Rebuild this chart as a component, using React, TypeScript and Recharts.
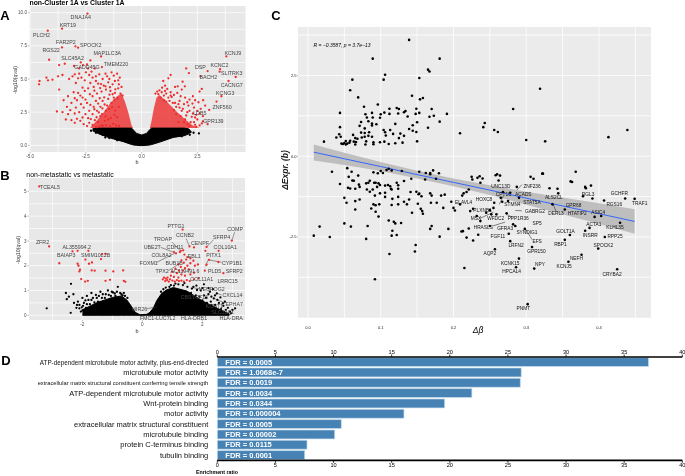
import React from "react";
import {
  ComposedChart, BarChart, Bar, Area, Line, Scatter, XAxis, YAxis, CartesianGrid,
  ReferenceLine, LabelList,
} from "recharts";

type P = [number, number];
type L = [string, number, number];
type Seg = [number, number, number, number];

/* ---------- Panel A ---------- */
const aRedCore = [
  { x: -2.3, low: 1.3, high: 1.35 }, { x: -2.0, low: 1.3, high: 1.9 }, { x: -1.7, low: 1.3, high: 2.5 },
  { x: -1.4, low: 1.3, high: 3.2 }, { x: -1.1, low: 1.3, high: 3.7 }, { x: -0.9, low: 1.3, high: 3.9 },
  { x: -0.75, low: 1.3, high: 3.3 }, { x: -0.6, low: 1.3, high: 2.5 }, { x: -0.45, low: 1.3, high: 1.5 }, { x: -0.38, low: 1.3, high: 1.3 },
  { x: 0.37, low: 1.3, high: 1.3 }, { x: 0.45, low: 1.3, high: 1.9 }, { x: 0.55, low: 1.3, high: 2.8 },
  { x: 0.67, low: 1.3, high: 3.6 }, { x: 0.8, low: 1.3, high: 3.8 }, { x: 1.0, low: 1.3, high: 3.5 },
  { x: 1.3, low: 1.3, high: 3.0 }, { x: 1.6, low: 1.3, high: 2.5 }, { x: 2.0, low: 1.3, high: 1.9 },
  { x: 2.3, low: 1.3, high: 1.5 }, { x: 2.6, low: 1.3, high: 1.3 },
];
const aBlackMass = [
  { x: -2.2, low: 1.1, high: 1.25 }, { x: -1.9, low: 0.85, high: 1.3 }, { x: -1.57, low: 0.65, high: 1.3 },
  { x: -1.2, low: 0.45, high: 1.3 }, { x: -0.82, low: 0.28, high: 1.3 }, { x: -0.55, low: 0.12, high: 1.3 },
  { x: -0.45, low: 0.06, high: 1.3 }, { x: -0.37, low: 0.03, high: 1.15 }, { x: -0.22, low: 0, high: 0.9 },
  { x: 0, low: -0.02, high: 0.78 }, { x: 0.22, low: 0, high: 0.9 }, { x: 0.37, low: 0.03, high: 1.2 },
  { x: 0.45, low: 0.06, high: 1.3 }, { x: 0.82, low: 0.25, high: 1.3 }, { x: 1.42, low: 0.6, high: 1.3 },
  { x: 1.9, low: 0.72, high: 1.3 }, { x: 2.1, low: 0.85, high: 1.25 }, { x: 2.2, low: 1.0, high: 1.1 },
];
const aRedLeft: P[] = [
  [-2.43, 9.92], [-3.57, 8.79], [-4.21, 8.64], [-3.57, 7.38], [-2.97, 7.46], [-2.85, 7.36], [-4.15, 6.45], [-1.82, 6.7],
  [-2.3, 6.4], [-2.73, 6.25], [-2.45, 6.1], [-2.63, 6.05], [-2.4, 5.8], [-3.03, 5.98], [-2.1, 5.8], [-1.78, 5.9],
  [-2.8, 5.8], [-3.7, 6.05], [-3.45, 6.15], [-4.2, 4.9], [-4.27, 5.1], [-4.58, 4.85], [-4.6, 4.6], [-4.0, 4.95],
  [-3.75, 5.2], [-3.55, 5.3], [-3.7, 4.2], [-3.3, 3.7], [-3.25, 5.0], [-3.1, 5.2], [-2.95, 4.7], [-2.8, 5.4],
  [-2.7, 5.1], [-2.55, 4.9], [-2.35, 5.3], [-2.2, 5.1], [-2.05, 5.2], [-1.9, 5.35], [-1.75, 5.0], [-1.55, 5.2],
  [-1.35, 5.5], [-1.25, 5.25], [-1.1, 5.4], [-1.05, 4.9], [-1.3, 4.6], [-1.5, 4.75], [-1.7, 4.5], [-1.95, 4.65],
  [-2.15, 4.4], [-2.4, 4.3], [-2.65, 4.35], [-2.85, 3.95], [-3.05, 4.0], [-3.5, 3.4], [-3.35, 2.9], [-3.15, 3.2],
  [-2.9, 3.4], [-2.65, 3.6], [-2.45, 3.2], [-2.2, 3.7], [-2.0, 3.9], [-1.8, 4.05], [-1.6, 4.2], [-1.4, 4.1],
  [-1.2, 3.95], [-1.05, 4.3], [-0.95, 3.9], [-1.25, 3.6], [-1.5, 3.5], [-1.75, 3.35], [-1.95, 3.15], [-2.15, 2.9],
  [-2.35, 2.6], [-2.6, 2.85], [-2.8, 2.5], [-3.0, 2.4], [-3.3, 2.35], [-3.55, 2.5], [-3.8, 2.55], [-3.4, 1.95],
  [-3.15, 1.9], [-2.9, 2.0], [-2.65, 2.1], [-2.4, 2.05], [-2.2, 2.35], [-2.0, 2.6], [-1.85, 2.9], [-1.85, 2.2],
  [-2.1, 1.9], [-2.35, 1.7], [-2.6, 1.6], [-2.45, 1.45], [-2.2, 1.55], [-1.95, 1.75], [-1.8, 1.5], [-2.05, 1.4],
  [-1.6, 2.6], [-1.55, 3.0], [-1.35, 3.2], [-1.65, 1.85], [-1.3, 3.85], [-0.9, 4.4], [-0.85, 3.75],
  [-1.9, 1.42], [-1.72, 1.48], [-1.58, 1.52], [-1.42, 1.44], [-1.28, 1.62], [-1.15, 1.5], [-1.02, 1.46], [-2.28, 1.98], [-2.02, 2.12],
  [-1.78, 2.36], [-1.62, 2.18], [-1.5, 1.95], [-1.38, 2.05], [-1.22, 2.3], [-1.1, 2.12], [-2.12, 2.72], [-1.92, 2.48], [-1.76, 2.78],
  [-1.66, 3.08], [-1.46, 2.74], [-1.32, 2.88], [-1.18, 2.62], [-1.02, 2.9], [-2.3, 3.05], [-2.05, 3.35], [-1.88, 3.55], [-1.68, 3.62],
  [-1.44, 3.82], [-1.22, 3.42], [-1.08, 3.55], [-2.52, 3.45], [-2.32, 3.85], [-2.12, 4.12], [-1.86, 4.32], [-1.62, 4.45], [-1.42, 4.38],
  [-1.18, 4.22], [-1.02, 4.6], [-2.55, 4.1], [-2.75, 3.75], [-3.0, 3.55], [-3.2, 2.65], [-2.95, 2.85], [-2.72, 3.1], [-2.52, 2.35],
  [-2.75, 1.85], [-3.0, 1.7], [-2.3, 4.7], [-2.05, 4.85], [-1.82, 4.62], [-1.62, 5.4], [-1.2, 4.85], [-0.98, 5.1], [-1.45, 5.0],
  [-2.5, 5.5], [-2.25, 5.55], [-3.0, 5.35], [-2.85, 5.05],
];
const aRedRight: P[] = [
  [3.8, 6.7], [2.0, 5.8], [2.12, 5.45], [2.96, 5.6], [3.5, 5.55], [3.52, 5.75], [4.22, 5.15], [3.9, 4.85], [2.64, 5.2],
  [2.7, 4.25], [2.6, 4.05], [3.58, 3.7], [3.36, 3.3], [3.03, 2.67], [2.6, 2.4], [2.45, 2.3], [2.96, 1.6], [1.3, 5.3],
  [1.2, 5.05], [0.97, 4.85], [1.05, 4.5], [1.84, 4.8], [1.94, 4.45], [1.5, 4.4], [1.8, 4.2], [2.3, 3.7], [2.76, 3.4],
  [0.8, 4.15], [0.9, 4.0], [1.15, 4.25], [1.3, 4.0], [1.45, 3.8], [1.6, 3.95], [1.95, 3.6], [2.15, 3.45], [2.55, 3.25],
  [1.2, 3.6], [1.0, 3.75], [1.7, 3.35], [1.9, 3.1], [2.1, 3.0], [2.35, 2.85], [2.65, 2.75], [1.4, 3.2], [1.55, 2.9],
  [1.8, 2.6], [2.05, 2.5], [2.25, 2.15], [2.5, 1.95], [2.75, 2.2], [2.2, 1.75], [1.95, 1.95], [2.4, 1.55], [2.7, 1.65],
  [1.75, 2.2], [1.65, 1.75], [2.05, 1.6], [2.28, 3.15], [1.1, 3.3], [0.75, 3.85],
  [0.62, 3.9], [0.7, 4.05], [0.85, 3.6], [1.0, 3.4], [1.1, 3.9], [1.25, 3.35], [1.35, 3.65], [1.5, 3.2], [1.65, 3.1], [1.45, 2.65],
  [1.7, 2.85], [1.85, 2.75], [2.0, 2.25], [2.15, 2.6], [2.3, 2.4], [2.4, 2.1], [1.55, 2.35], [1.9, 1.75], [2.15, 1.45], [2.35, 1.75],
  [2.6, 1.5], [2.75, 1.8], [2.45, 1.4], [1.3, 3.75], [1.75, 3.7], [1.05, 4.1], [0.92, 4.35], [1.62, 4.45], [2.05, 3.25], [2.4, 3.4],
  [2.5, 2.6], [2.85, 3.0],
];
const aBlack: P[] = [
  [-2.27, 1.1], [-1.92, 1.05], [-1.63, 0.6], [-2.05, 0.95], [-1.75, 0.8], [-1.45, 0.55], [-1.1, 0.38],
  [1.55, 0.7], [1.8, 0.68], [2.16, 0.8], [2.57, 0.9], [1.95, 0.98], [2.2, 1.0], [1.35, 0.78], [1.7, 0.95], [2.33, 0.95],
];
const aLabels: L[] = [
  ["DNAJA4", -2.73, 9.65], ["KRT19", -3.31, 9.09], ["PLCH2", -4.49, 8.31], ["FAR2P2", -3.4, 7.78], ["SPOCK2", -2.28, 7.58],
  ["RGS22", -4.06, 7.18], ["MAP1LC3A", -1.54, 6.98], ["SLC45A2", -3.1, 6.57], ["GADD45G", -2.45, 5.94], ["TMEM220", -1.15, 6.14],
  ["KCNJ9", 4.09, 6.93], ["KCNC2", 3.49, 6.02], ["DSP", 2.64, 5.87], ["SLITRK3", 4.04, 5.42], ["BACH2", 2.99, 5.16],
  ["CACNG7", 4.04, 4.56], ["KCNG3", 3.75, 3.95], ["ZNF560", 3.61, 2.92], ["LDB5", 2.61, 2.47], ["GPR139", 3.22, 1.86],
];
const aXTicks = [-5, -2.5, 0, 2.5];
const aYTicks = [0, 2.5, 5, 7.5, 10];
const aGridX = [-5, -3.75, -2.5, -1.25, 0, 1.25, 2.5, 3.75];
const aGridY = [0, 1.25, 2.5, 3.75, 5, 6.25, 7.5, 8.75, 10];

/* ---------- Panel B ---------- */
const bBlackMass = [
  { x: -2.0, low: 0.0, high: 0.22 }, { x: -1.5, low: 0.0, high: 0.52 }, { x: -1.0, low: 0.0, high: 0.72 },
  { x: -0.7, low: 0.0, high: 0.78 }, { x: -0.52, low: 0.0, high: 0.62 }, { x: -0.36, low: 0.0, high: 0.35 },
  { x: -0.24, low: 0.0, high: 0.12 }, { x: -0.08, low: 0.0, high: 0.02 }, { x: 0.15, low: 0.0, high: 0.04 },
  { x: 0.25, low: 0.0, high: 0.12 }, { x: 0.37, low: 0.0, high: 0.3 }, { x: 0.48, low: 0.0, high: 0.6 },
  { x: 0.64, low: 0.0, high: 0.88 }, { x: 0.8, low: 0.0, high: 1.02 }, { x: 1.03, low: 0.0, high: 1.12 },
  { x: 1.48, low: 0.0, high: 0.98 }, { x: 2.0, low: 0.0, high: 0.58 }, { x: 2.5, low: 0.0, high: 0.28 },
  { x: 2.9, low: 0.0, high: 0.05 },
];
const bRed: P[] = [
  [-3.44, 5.2], [-3.11, 2.78], [-2.77, 2.1], [-2.33, 2.58], [-2.16, 2.6], [-1.8, 2.6], [-1.9, 2.25], [-2.16, 2.08],
  [-2.13, 2.0], [-2.08, 1.84], [-2.1, 1.77], [-2.04, 1.46], [-1.91, 1.36], [-1.82, 1.39], [-1.68, 2.13], [-1.78, 2.08],
  [-1.69, 1.81], [-1.59, 1.8], [-1.38, 2.27], [-1.34, 2.47], [-1.23, 2.48], [-1.23, 1.8], [-0.97, 1.77], [-0.64, 1.81],
  [-1.23, 1.39], [-1.08, 1.43], [-0.62, 1.39], [-0.57, 1.35],
  [1.34, 3.46], [1.57, 2.78], [1.72, 2.74], [2.14, 2.76], [2.1, 2.6], [2.54, 2.6], [2.98, 3.01], [2.22, 2.24], [2.53, 2.15],
  [2.14, 2.04], [2.08, 1.8], [2.7, 1.7], [1.28, 2.6], [1.36, 2.62], [1.25, 2.55], [1.05, 2.55], [1.12, 2.5], [1.4, 2.45],
  [1.5, 2.35], [1.46, 2.25], [1.6, 2.3], [1.7, 2.2], [1.85, 2.05], [1.75, 2.0], [1.6, 2.1], [1.5, 2.0], [1.38, 2.12],
  [1.3, 2.22], [1.2, 2.05], [1.28, 1.95], [1.42, 1.9], [1.55, 1.85], [1.35, 1.8], [1.22, 1.8], [1.1, 1.88], [1.0, 1.75],
  [1.15, 1.7], [1.3, 1.65], [1.42, 1.6], [1.6, 1.65], [1.72, 1.72], [0.95, 1.6], [1.05, 1.55], [1.2, 1.52], [0.72, 1.52],
  [0.78, 1.48], [0.82, 1.42], [0.76, 1.38], [0.88, 1.36], [0.92, 1.45], [1.0, 1.4], [1.08, 1.36], [1.15, 1.42], [1.22, 1.38],
  [1.3, 1.4], [1.38, 1.36], [1.48, 1.42], [1.58, 1.38], [0.68, 1.45], [0.84, 1.52], [1.72, 1.45], [1.88, 1.5],
];
const bBlack: P[] = [
  [-3.19, 0.28], [-2.39, 0.1], [-2.38, 1.27], [-2.55, 0.9], [-2.45, 0.75], [-2.52, 0.65], [-2.3, 0.85], [-2.15, 0.55], [-2.1, 0.42],
  [-2.02, 0.32], [-1.95, 0.5], [-1.85, 0.78], [-1.8, 0.62], [-1.75, 0.45], [-1.7, 0.9], [-1.65, 0.7], [-1.6, 0.52], [-1.55, 0.82],
  [-1.48, 0.55], [-1.4, 0.95], [-1.35, 0.7], [-1.3, 0.55], [-1.22, 0.85], [-1.15, 1.0], [-1.05, 0.78], [-0.98, 0.92], [-0.9, 0.78],
  [-0.82, 1.15], [-0.74, 0.9], [-0.66, 0.8], [-0.58, 0.78], [-0.5, 0.7], [-2.05, 0.15], [-1.9, 0.22], [-1.8, 0.12], [-1.95, 0.08],
  [-2.2, 0.3], [-1.6, 0.12], [-1.72, 0.28],
  [-2.0, 0.7], [-1.9, 0.6], [-1.85, 0.45], [-1.7, 0.62], [-1.62, 0.35], [-1.52, 0.7], [-1.45, 0.78], [-1.32, 0.85], [-1.25, 0.7],
  [-1.12, 0.82], [-1.02, 0.95], [-0.92, 0.88], [-0.85, 0.95], [-0.7, 0.85], [-0.62, 0.9], [-2.28, 0.5], [-2.18, 0.42], [-2.1, 0.28],
  [-1.98, 0.38], [-1.88, 0.3], [-1.68, 0.18], [-2.0, 0.2], [-1.52, 0.18],
  [0.9, 1.15], [1.05, 1.2], [1.2, 1.25], [1.35, 1.22], [1.5, 1.15], [1.65, 1.08], [1.8, 1.2], [2.05, 1.25], [1.95, 1.0], [2.2, 1.1],
  [1.62, 0.9], [1.78, 0.8], [1.9, 0.75], [2.05, 0.8], [2.2, 0.85], [2.35, 1.05], [2.48, 0.88], [2.6, 0.72], [2.38, 0.68],
  [2.28, 0.55], [2.15, 0.5], [2.0, 0.6], [1.88, 0.42], [2.1, 0.32], [2.25, 0.3], [2.42, 0.42], [2.55, 0.5], [2.7, 0.38],
  [2.85, 0.3], [3.09, 0.28], [2.92, 0.15], [2.72, 0.12], [2.5, 0.16], [2.35, 0.12], [2.18, 0.14], [2.62, 0.25], [2.05, 0.18],
  [1.75, 0.3], [1.65, 0.6], [2.3, 0.75], [2.75, 0.55], [1.95, 0.12],
  [2.3, 0.42], [2.45, 0.3], [2.6, 0.15], [2.78, 0.22], [2.95, 0.08], [3.0, 0.22], [2.68, 0.48], [2.5, 0.62], [2.42, 0.8], [2.12, 0.7],
  [1.82, 1.02], [1.7, 1.15], [2.0, 1.1], [2.25, 0.95], [1.4, 1.3], [1.1, 1.28], [0.95, 1.22], [0.78, 1.12], [0.7, 1.05], [0.62, 0.95],
];
const bLabels: L[] = [
  ["TCEAL5", -3.08, 5.19], ["PTTG1", 1.12, 3.62], ["COMP", 3.09, 3.49], ["CCNB2", 1.42, 3.23], ["SFRP4", 2.64, 3.16],
  ["TROAP", 0.68, 3.08], ["ZFR2", -3.33, 2.95], ["CENPF", 1.92, 2.91], ["AL355994.2", -2.19, 2.74], ["UBE2T", 0.33, 2.74],
  ["CDH11", 1.09, 2.74], ["COL10A1", 2.76, 2.74], ["BAIAP3", -2.54, 2.42], ["SMIM10L2B", -1.56, 2.43], ["COL8A2", 0.64, 2.42],
  ["EBL1", 1.73, 2.38], ["PITX1", 2.37, 2.42], ["FOXM1", 0.21, 2.09], ["CYP1B1", 2.99, 2.12], ["BUB1B", 1.06, 2.09],
  ["TPX2", 0.66, 1.78], ["AC119491.6", 1.42, 1.78], ["PLD5", 2.41, 1.78], ["SFRP2", 3.06, 1.78], ["COL11A1", 1.98, 1.46],
  ["LRRC15", 2.84, 1.38], ["NEUROG2", 2.31, 1.08], ["CXCL14", 3.0, 0.8], ["TCF15", 1.92, 0.74], ["CBS", 1.46, 0.74],
  ["EPHA7", 3.06, 0.46], ["KCNT1", 2.4, 0.39], ["SLC32A1", 2.67, 0.15], ["MIR26", -0.1, 0.24], ["FMC1-LUC7L2", 0.51, -0.11],
  ["HLA-DRB1", 1.72, -0.11], ["HLA-DRA", 2.96, -0.11],
];
const bSegments: Seg[] = [
  [2.98, 3.01, 3.07, 3.35], [2.14, 2.76, 2.37, 3.05], [1.57, 2.78, 1.46, 3.09], [0.98, 2.96, 1.26, 2.61], [0.61, 2.74, 1.03, 2.55],
  [0.48, 2.14, 1.09, 2.51], [0.87, 1.8, 1.26, 2.11], [2.09, 1.97, 2.2, 2.24], [2.2, 2.24, 2.64, 2.14], [0.14, 0.26, 0.48, 0.35],
  [1.64, 1.12, 1.92, 1.07], [2.48, 0.89, 2.64, 0.82], [2.37, 0.69, 2.76, 0.49], [3.09, 0.28, 2.92, 0.01],
];
const bXTicks = [-2, 0, 2];
const bYTicks = [0, 1, 2, 3, 4, 5];
const bGridX = [-3, -2, -1, 0, 1, 2, 3];
const bGridY = [0, 0.5, 1, 1.5, 2, 2.5, 3, 3.5, 4, 4.5, 5];

/* ---------- Panel C ---------- */
const cFit = [
  { x: 0.008, fit: 0.124, low: -0.13, high: 0.36 }, { x: 0.05, fit: -0.08, low: -0.27, high: 0.11 },
  { x: 0.1, fit: -0.32, low: -0.46, high: -0.18 }, { x: 0.15, fit: -0.57, low: -0.69, high: -0.45 },
  { x: 0.2, fit: -0.81, low: -0.93, high: -0.69 }, { x: 0.25, fit: -1.05, low: -1.2, high: -0.9 },
  { x: 0.3, fit: -1.3, low: -1.5, high: -1.1 }, { x: 0.35, fit: -1.54, low: -1.8, high: -1.28 },
  { x: 0.4, fit: -1.78, low: -2.1, high: -1.46 }, { x: 0.449, fit: -2.02, low: -2.4, high: -1.64 },
];
const cPoints: P[] = [
  [0.139, 3.6], [0.089, 3.02], [0.181, 3.02], [0.165, 2.68], [0.167, 2.62], [0.106, 2.52], [0.104, 2.37], [0.061, 2.37],
  [0.153, 2.42], [0.058, 2.04], [0.069, 1.82], [0.143, 1.87], [0.158, 1.8], [0.154, 1.76], [0.077, 1.53], [0.096, 1.6],
  [0.319, 2.09], [0.282, 1.46], [0.044, 1.34], [0.112, 1.47], [0.122, 1.49], [0.125, 1.46], [0.134, 1.4], [0.132, 1.36],
  [0.149, 1.47], [0.17, 1.46], [0.105, 1.35], [0.112, 1.31], [0.124, 1.32], [0.1, 1.3], [0.088, 1.34], [0.079, 1.3],
  [0.081, 1.2], [0.089, 1.2], [0.099, 1.19], [0.137, 1.23], [0.148, 1.31], [0.153, 1.34], [0.167, 1.22], [0.173, 1.25],
  [0.191, 1.31], [0.073, 1.06], [0.083, 1.08], [0.088, 1.01], [0.088, 0.95], [0.094, 0.99], [0.071, 0.94], [0.044, 0.9],
  [0.12, 1.0], [0.144, 0.96], [0.15, 1.05], [0.181, 1.07], [0.165, 0.88], [0.139, 0.84], [0.078, 0.86], [0.104, 0.81],
  [0.106, 0.74], [0.113, 0.81], [0.144, 0.79], [0.149, 0.75], [0.073, 0.73], [0.078, 0.72], [0.084, 0.74], [0.043, 0.68],
  [0.045, 0.6], [0.039, 0.58], [0.062, 0.66], [0.065, 0.56], [0.068, 0.54], [0.074, 0.58], [0.078, 0.6], [0.083, 0.63],
  [0.088, 0.6], [0.107, 0.64], [0.117, 0.69], [0.127, 0.7], [0.132, 0.63], [0.125, 0.56], [0.022, 0.45], [0.046, 0.39],
  [0.05, 0.41], [0.052, 0.47], [0.058, 0.48], [0.048, 0.38], [0.052, 0.36], [0.054, 0.39], [0.057, 0.42], [0.063, 0.45],
  [0.066, 0.44], [0.065, 0.36], [0.08, 0.46], [0.079, 0.36], [0.09, 0.43], [0.09, 0.37], [0.099, 0.43], [0.105, 0.45],
  [0.111, 0.38], [0.12, 0.4], [0.13, 0.42], [0.15, 0.46], [0.209, 0.71], [0.241, 0.9], [0.243, 1.03], [0.256, 0.81],
  [0.261, 0.75], [0.3, 0.5], [0.326, 0.46], [0.413, 0.59], [0.439, 0.81],
  [0.033, -0.48], [0.054, -0.37], [0.06, -0.48], [0.09, -0.5], [0.096, -0.53], [0.1, -0.46], [0.103, -0.52], [0.108, -0.43],
  [0.111, -0.39], [0.115, -0.44], [0.129, -0.46], [0.153, -0.48], [0.162, -0.52], [0.168, -0.52], [0.172, -0.44], [0.18, -0.53],
  [0.26, -0.56], [0.323, -0.54], [0.368, -0.48],
  [0.044, -0.86], [0.056, -0.64], [0.069, -0.6], [0.061, -0.75], [0.063, -0.76], [0.055, -0.98], [0.058, -1.0], [0.065, -1.01],
  [0.07, -0.88], [0.071, -0.95], [0.08, -0.84], [0.083, -0.82], [0.085, -0.76], [0.091, -0.82], [0.093, -0.82], [0.097, -0.84],
  [0.099, -0.89], [0.095, -0.95], [0.089, -1.03], [0.081, -1.03], [0.085, -1.1], [0.05, -1.29], [0.053, -1.44], [0.065, -1.39],
  [0.071, -1.34], [0.065, -1.65], [0.087, -1.62], [0.09, -1.49], [0.093, -1.52], [0.098, -1.49], [0.093, -1.72], [0.097, -1.87],
  [0.05, -2.08], [0.016, -2.18], [0.059, -2.18], [0.082, -2.16], [0.008, -2.46], [0.03, -2.5], [0.08, -2.56], [0.111, -1.99],
  [0.118, -2.03], [0.12, -2.08], [0.128, -2.07], [0.116, -2.31], [0.115, -2.46], [0.122, -2.44], [0.148, -2.75], [0.147, -2.95],
  [0.112, -3.03], [0.092, -3.81], [0.106, -0.91], [0.11, -0.89], [0.113, -0.93], [0.122, -0.82], [0.124, -0.9], [0.115, -1.03],
  [0.124, -1.01], [0.142, -0.7], [0.132, -0.77], [0.141, -1.11], [0.149, -1.1], [0.153, -1.16], [0.156, -1.24], [0.152, -1.18],
  [0.168, -1.15], [0.17, -1.22], [0.161, -0.72], [0.168, -0.56], [0.176, -0.7], [0.183, -1.22], [0.188, -1.19], [0.106, -1.13],
  [0.099, -1.15], [0.092, -1.22], [0.106, -1.26], [0.114, -1.01], [0.116, -1.32], [0.124, -1.26], [0.132, -1.41], [0.136, -1.49],
  [0.139, -1.34], [0.124, -1.49], [0.115, -1.51], [0.143, -1.75], [0.155, -1.63], [0.157, -1.7], [0.158, -1.78], [0.151, -1.47],
  [0.169, -1.44], [0.177, -1.44], [0.186, -1.6], [0.2, -1.6], [0.202, -1.68], [0.197, -1.41], [0.209, -1.49], [0.212, -1.22],
  [0.214, -1.15], [0.218, -1.11], [0.221, -1.03], [0.225, -0.64], [0.226, -0.72], [0.233, -0.67], [0.236, -0.62], [0.24, -0.69],
  [0.237, -0.82], [0.258, -0.59], [0.264, -0.6], [0.262, -0.75], [0.306, -0.64], [0.31, -0.7], [0.322, -0.54], [0.332, -0.99],
  [0.343, -1.01], [0.344, -1.15], [0.361, -0.78], [0.363, -0.8], [0.381, -0.95], [0.382, -0.99], [0.389, -0.91], [0.378, -1.24],
  [0.391, -1.31], [0.407, -1.37], [0.436, -1.31], [0.449, -1.32], [0.287, -0.95], [0.29, -1.29], [0.268, -1.11], [0.278, -1.13],
  [0.275, -1.39], [0.267, -1.41], [0.265, -1.29], [0.223, -1.7], [0.227, -1.63], [0.25, -1.67], [0.255, -1.6], [0.256, -1.44],
  [0.232, -1.85], [0.237, -2.01], [0.245, -1.75], [0.252, -1.8], [0.259, -1.8], [0.273, -1.77], [0.282, -2.11], [0.285, -2.16],
  [0.298, -2.25], [0.276, -2.4], [0.278, -2.63], [0.257, -2.88], [0.29, -3.17], [0.286, -3.44], [0.215, -3.46], [0.311, -3.48],
  [0.308, -2.81], [0.302, -4.58], [0.36, -2.44], [0.353, -2.59], [0.381, -2.31], [0.387, -2.22], [0.408, -2.5], [0.399, -2.86],
  [0.376, -3.05], [0.358, -3.27], [0.425, -3.5], [0.429, -2.06], [0.394, -1.88], [0.403, -1.85], [0.353, -1.65], [0.336, -1.49],
  [0.213, -2.32], [0.211, -2.33], [0.218, -2.52], [0.227, -2.61], [0.234, -2.43], [0.221, -2.24], [0.193, -2.25], [0.181, -2.49],
  [0.168, -2.25], [0.17, -2.16], [0.25, -2.16],
];
const cLabels: L[] = [
  ["UNC13D", 0.265, -0.94], ["ZNF236", 0.308, -0.93], ["CPT1C", 0.269, -1.2], ["ACADS", 0.296, -1.18], ["ALS2CL", 0.338, -1.29],
  ["RGL3", 0.385, -1.19], ["GCHFR", 0.428, -1.16], ["TRAF1", 0.456, -1.46], ["ELAVL4", 0.214, -1.42], ["HOXC8", 0.242, -1.35],
  ["STMN4", 0.281, -1.51], ["STAT5A", 0.308, -1.44], ["GPR68", 0.365, -1.53], ["RGS16", 0.421, -1.48], ["PLXNB1", 0.24, -1.67],
  ["GABRG2", 0.312, -1.7], ["DERL3", 0.341, -1.78], ["HTATIP2", 0.37, -1.77], ["ASIC4", 0.399, -1.73], ["MSX", 0.231, -1.93],
  ["WFDC2", 0.258, -1.94], ["PPP1R36", 0.289, -1.94], ["SP5", 0.315, -2.09], ["ACTA1", 0.393, -2.1], ["KLHL35", 0.422, -2.2],
  ["HRASLS", 0.241, -2.2], ["GFRA3", 0.271, -2.25], ["SYNDIG1", 0.301, -2.37], ["GOLT1A", 0.354, -2.34], ["INSRR", 0.388, -2.45],
  ["RPP25", 0.422, -2.5], ["FGF11", 0.261, -2.5], ["EFS", 0.315, -2.63], ["RBP1", 0.347, -2.73], ["SPOCK2", 0.406, -2.75],
  ["LRFN2", 0.286, -2.75], ["GPR150", 0.314, -2.94], ["AQP2", 0.25, -3.02], ["NEFH", 0.369, -3.18], ["KCNK15", 0.278, -3.31],
  ["NPY", 0.319, -3.35], ["KCNJ5", 0.352, -3.43], ["HPCAL4", 0.28, -3.56], ["CRYBA2", 0.418, -3.67], ["PNMT", 0.296, -4.71],
];
const cSegments: Seg[] = [
  [0.273, -1.8, 0.281, -1.89], [0.299, -2.25, 0.308, -2.58], [0.285, -1.68, 0.294, -1.69], [0.336, -1.44, 0.341, -1.7],
  [0.236, -1.93, 0.255, -1.73], [0.263, -1.49, 0.269, -1.22], [0.287, -1.05, 0.294, -0.88], [0.254, -2.16, 0.271, -2.04],
];
const cXTicks = [0, 0.1, 0.2, 0.3, 0.4];
const cYTicks = [-2.5, 0, 2.5];
const cGridX = [0, 0.05, 0.1, 0.15, 0.2, 0.25, 0.3, 0.35, 0.4, 0.45];
const cGridY = [-3.75, -2.5, -1.25, 0, 1.25, 2.5, 3.75];

/* ---------- Panel D ---------- */
const dTerms = [
  "ATP-dependent microtubule motor activity, plus-end-directed",
  "microtubule motor activity",
  "extracellular matrix structural constituent conferring tensile strength",
  "ATP-dependent microtubule motor activity",
  "Wnt-protein binding",
  "motor activity",
  "extracellular matrix structural constituent",
  "microtubule binding",
  "protein C-terminus binding",
  "tubulin binding",
];
const dRatio = [37.1, 26.15, 26.07, 21.9, 19.56, 16.06, 10.67, 10.1, 7.72, 7.52];
const dFdr = ["0.0005", "1.0068e-7", "0.0019", "0.0034", "0.0344", "0.000004", "0.0005", "0.00002", "0.0115", "0.0001"];
const dTermSize = [6.3, 7.5, 5.75, 7.5, 7.5, 7.5, 7.5, 7.5, 7.5, 7.5];
const dTicks = [0, 5, 10, 15, 20, 25, 30, 35, 40];

const FONT = "'Liberation Sans', Arial, sans-serif";
const toPts = (a: P[]) => a.map(([x, y]) => ({ x, y }));
const toLabels = (a: L[]) => a.map(([t, x, y]) => ({ t, x, y }));

const dot = (r: number, fill: string) => (p: any) => <circle cx={p.cx} cy={p.cy} r={r} fill={fill} />;
const labelShape = (size: number, fill: string) => (p: any) => (
  <text x={p.cx} y={p.cy} fontSize={size} fill={fill} fontFamily={FONT} textAnchor="middle" dominantBaseline="central">
    {p.payload.t}
  </text>
);
const seg = (s: Seg, i: number, c: string) => (
  <ReferenceLine key={i} segment={[{ x: s[0], y: s[1] }, { x: s[2], y: s[3] }]} stroke={c} strokeWidth={0.5} ifOverflow="visible" />
);

const tickStyle = { fontSize: 4.6, fill: "#4d4d4d", fontFamily: FONT };

function Txt({ x, y, size, children, bold, italic, rotate, color }: any) {
  return (
    <div
      style={{
        position: "absolute", left: x, top: y, fontSize: size, fontFamily: FONT, whiteSpace: "nowrap", lineHeight: 1,
        fontWeight: bold ? 700 : 400, fontStyle: italic ? "italic" : "normal", color: color || "#000",
        transform: `translate(-50%,-50%)${rotate ? ` rotate(${rotate}deg)` : ""}`,
      }}
    >
      {children}
    </div>
  );
}

function Volcano({ left, top, w, h, m, xd, yd, xt, yt, gx, gy, core, mass, red, black, labels, segs, yFmt }: any) {
  return (
    <div style={{ position: "absolute", left, top }}>
      <ComposedChart width={w} height={h} data={mass} margin={m}>
        <CartesianGrid fill="#e8e8e8" stroke="#ffffff" strokeWidth={0.7} horizontalValues={gy} verticalValues={gx} />
        <XAxis dataKey="x" type="number" domain={xd} ticks={xt} interval={0} height={14} tick={tickStyle} axisLine={false}
          tickLine={{ stroke: "#555", strokeWidth: 0.4 }} tickSize={1.5} tickMargin={1} tickFormatter={(v: number) => (xd[0] < -4 ? v.toFixed(1) : String(v))} />
        <YAxis type="number" domain={yd} ticks={yt} interval={0} width={m.yw} tick={tickStyle} axisLine={false}
          tickLine={{ stroke: "#555", strokeWidth: 0.4 }} tickSize={1.5} tickMargin={1} tickFormatter={yFmt} />
        {core ? <Area data={core} dataKey={(d: any) => [d.low, d.high]} type="linear" stroke="none" fill="#ee2c2c" fillOpacity={0.8} isAnimationActive={false} /> : null}
        <Area dataKey={(d: any) => [d.low, d.high]} type="linear" stroke="#000" strokeWidth={1} fill="#000" fillOpacity={1} isAnimationActive={false} />
        <Scatter data={toPts(black)} dataKey="y" shape={dot(1.15, "#000")} isAnimationActive={false} />
        <Scatter data={toPts(red)} dataKey="y" shape={dot(1.15, "#ee2c2c")} isAnimationActive={false} />
        {segs ? segs.map((s: Seg, i: number) => seg(s, i, "#333")) : null}
        <Scatter data={toLabels(labels)} dataKey="y" shape={labelShape(5.3, "#444")} isAnimationActive={false} />
      </ComposedChart>
    </div>
  );
}

const dData = dTerms.map((term, i) => ({ term, ratio: dRatio[i], fdr: `FDR = ${dFdr[i]}` }));
const dTick = (p: any) => (
  <text x={p.x} y={p.y} textAnchor="end" dominantBaseline="central" fontSize={dTermSize[p.index]} fontFamily={FONT} fill="#111">
    {p.payload.value}
  </text>
);
const dAxisTick = { fontSize: 5.6, fill: "#000", fontFamily: FONT };
const dAxisLine = { stroke: "#000", strokeWidth: 1.7 };
const dTickLine = { stroke: "#000", strokeWidth: 0.8 };
const fdrLabel = (p: any) => (
  <text x={p.x + 8} y={p.y + p.height / 2} dominantBaseline="central" fill="#fff" fontSize={7.5} fontWeight={700} fontFamily={FONT}>
    {p.value}
  </text>
);

export default function App() {
  return (
    <div style={{ position: "absolute", left: 0, top: 0, width: 685, height: 476, overflow: "hidden", background: "#fff", filter: "blur(0.3px)" }}>
      <Volcano left={0} top={0} w={250} h={166} m={{ top: 6, right: 4.5, bottom: 0, left: 0, yw: 29.5 }}
        xd={[-5.03, 4.66]} yd={[-0.5, 10.5]} xt={aXTicks} yt={aYTicks} gx={aGridX} gy={aGridY}
        core={aRedCore} mass={aBlackMass} red={[...aRedLeft, ...aRedRight]} black={aBlack} labels={aLabels}
        yFmt={(v: number) => v.toFixed(1)} />
      <Volcano left={0} top={170} w={250} h={164} m={{ top: 8, right: 5, bottom: 0, left: 0, yw: 29 }}
        xd={[-3.78, 3.42]} yd={[-0.19, 5.54]} xt={bXTicks} yt={bYTicks} gx={bGridX} gy={bGridY}
        mass={bBlackMass} red={bRed} black={bBlack} labels={bLabels} segs={bSegments}
        yFmt={(v: number) => String(v)} />

      <div style={{ position: "absolute", left: 285, top: 17 }}>
        <ComposedChart width={370} height={312} data={cFit} margin={{ top: 10, right: 4, bottom: 0, left: 0 }}>
          <CartesianGrid fill="#ebebeb" stroke="#ffffff" strokeWidth={0.8} horizontalValues={cGridY} verticalValues={cGridX} />
          <XAxis dataKey="x" type="number" domain={[-0.0137, 0.4715]} ticks={cXTicks} interval={0} height={11.3} tick={{ ...tickStyle, fontSize: 4, fill: "#222" }}
            axisLine={false} tickLine={false} tickMargin={2} tickFormatter={(v: number) => v.toFixed(1)} />
          <YAxis type="number" domain={[-5.0, 4.0]} ticks={cYTicks} interval={0} width={13} tick={{ ...tickStyle, fontSize: 4, fill: "#222" }}
            axisLine={false} tickLine={{ stroke: "#333", strokeWidth: 0.4 }} tickSize={1} tickMargin={0.5} tickFormatter={(v: number) => v.toFixed(1)} />
          <Area dataKey={(d: any) => [d.low, d.high]} type="linear" stroke="none" fill="#b3b3b3" fillOpacity={0.8} isAnimationActive={false} />
          <Line dataKey="fit" type="linear" stroke="#3366ff" strokeWidth={1} dot={false} isAnimationActive={false} />
          <Scatter data={toPts(cPoints)} dataKey="y" shape={dot(1.3, "#000")} isAnimationActive={false} />
          {cSegments.map((s, i) => seg(s, i, "#111"))}
          <Scatter data={toLabels(cLabels)} dataKey="y" shape={labelShape(4.8, "#111")} isAnimationActive={false} />
        </ComposedChart>
      </div>

      <div style={{ position: "absolute", left: 0, top: 345 }}>
        <BarChart width={685} height={131} data={dData} layout="vertical" barCategoryGap={0.6} margin={{ top: 0, right: 2.7, bottom: 15.7, left: 0 }}>
          <XAxis orientation="top" type="number" domain={[0, 40]} ticks={dTicks} interval={0} height={12} tick={dAxisTick}
            axisLine={dAxisLine} tickLine={dTickLine} tickSize={2.5} tickMargin={0.5} />
          <YAxis type="category" dataKey="term" width={217.3} interval={0} axisLine={false} tickLine={false} tick={dTick} tickMargin={3} />
          <Bar dataKey="ratio" fill="#4682b4" stroke="#cfe2ef" strokeWidth={0.7} isAnimationActive={false}>
            <LabelList dataKey="fdr" content={fdrLabel} />
          </Bar>
        </BarChart>
      </div>
      <div style={{ position: "absolute", left: 0, top: 345, pointerEvents: "none" }}>
        <BarChart width={685} height={131} data={dData} layout="vertical" margin={{ top: 12, right: 2.7, bottom: 0, left: 0 }}>
          <XAxis orientation="bottom" type="number" domain={[0, 40]} ticks={dTicks} interval={0} height={15.7} tick={dAxisTick}
            axisLine={dAxisLine} tickLine={dTickLine} tickSize={2.5} tickMargin={0.5} />
          <YAxis type="category" dataKey="term" width={217.3} hide={false} axisLine={false} tickLine={false} tick={false} />
          <Bar dataKey="ratio" fill="none" stroke="none" isAnimationActive={false} />
        </BarChart>
      </div>

      <Txt x={5} y={15} size={13} bold>A</Txt>
      <Txt x={5} y={175} size={13} bold>B</Txt>
      <Txt x={276} y={15} size={13} bold>C</Txt>
      <Txt x={6} y={360} size={13} bold>D</Txt>
      <Txt x={77} y={3} size={6.9} bold>non-Cluster 1A vs Cluster 1A</Txt>
      <Txt x={70} y={175} size={6.9}>non-metastatic vs metastatic</Txt>
      <Txt x={137} y={163} size={5.5} color="#333">b</Txt>
      <Txt x={137} y={332} size={5.5} color="#333">b</Txt>
      <Txt x={16} y={80} size={5.3} rotate={-90} color="#333">-log10(qval)</Txt>
      <Txt x={19} y={250} size={5.3} rotate={-90} color="#333">-log10(qval)</Txt>
      <Txt x={285} y={170} size={8.5} rotate={-90} italic bold color="#222">ΔExpr. (b)</Txt>
      <Txt x={478} y={330} size={8.5} italic>Δβ</Txt>
      <Txt x={342} y={45} size={5} italic>R = −0.3587, p = 3.7e−13</Txt>
      <Txt x={217} y={473} size={5.3} bold>Enrichment ratio</Txt>
    </div>
  );
}
